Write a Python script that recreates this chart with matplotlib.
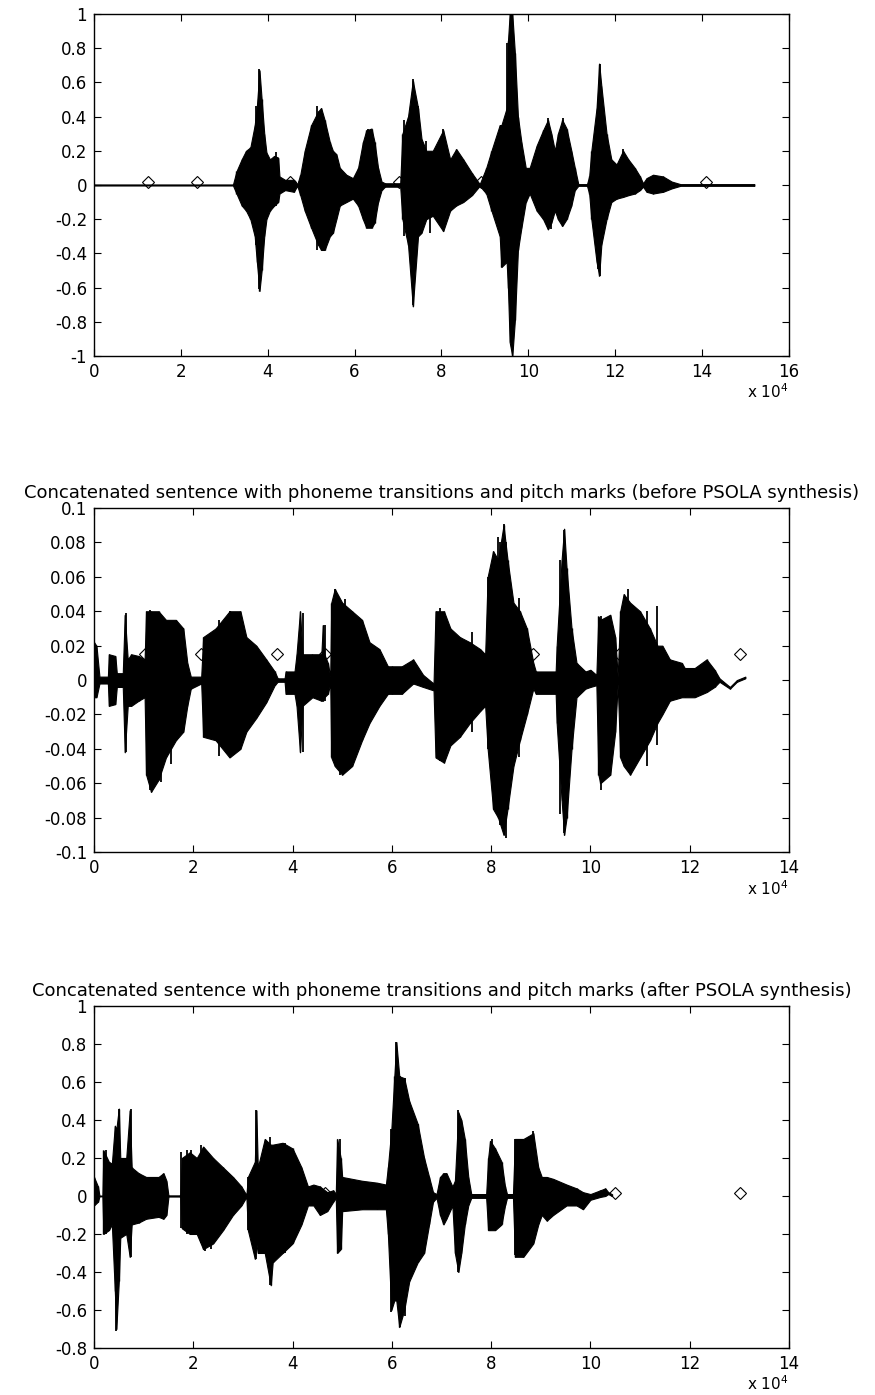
import matplotlib
matplotlib.use("Agg")
import matplotlib.pyplot as plt

# speech waveforms, envelope (upper / lower), x in units of 1e4 samples
# original sentence
p1_x = [0.0, 3.2, 3.28, 3.4, 3.5, 3.6, 3.7, 3.75, 3.81, 3.86, 3.92, 3.97, 4.05, 4.15, 4.24, 4.27,
        4.4, 4.6, 4.68, 4.75, 4.85, 5.0, 5.16, 5.23, 5.31, 5.43, 5.5, 5.58, 5.66, 5.81, 5.96, 6.08,
        6.19, 6.27, 6.39, 6.46, 6.54, 6.62, 6.7, 7.05, 7.1, 7.23, 7.34, 7.46, 7.54, 7.65, 7.8, 8.04,
        8.2, 8.34, 8.5, 8.7, 8.88, 9.03, 9.15, 9.34, 9.38, 9.5, 9.53, 9.57, 9.63, 9.69, 9.76, 9.84,
        9.94, 10.03, 10.19, 10.34, 10.45, 10.53, 10.61, 10.68, 10.78, 10.88, 10.99, 11.07, 11.15,
        11.35, 11.4, 11.45, 11.57, 11.63, 11.68, 11.8, 11.91, 12.03, 12.18, 12.3, 12.45, 12.57,
        12.64, 12.72, 12.87, 13.1, 13.3, 13.5, 15.2]
p1_hi = [0.003, 0.003, 0.08, 0.15, 0.2, 0.22, 0.35, 0.46, 0.67, 0.5, 0.3, 0.19, 0.15, 0.17, 0.16, 0.05,
         0.03, 0.03, 0.005, 0.06, 0.2, 0.35, 0.43, 0.45, 0.38, 0.25, 0.2, 0.18, 0.1, 0.06, 0.04, 0.1,
         0.25, 0.32, 0.33, 0.25, 0.1, 0.02, 0.01, 0.01, 0.3, 0.4, 0.61, 0.45, 0.27, 0.2, 0.2, 0.32,
         0.15, 0.21, 0.15, 0.07, 0.005, 0.1, 0.2, 0.35, 0.35, 0.45, 0.84, 1.0, 1.0, 0.77, 0.4, 0.25,
         0.1, 0.1, 0.23, 0.32, 0.38, 0.3, 0.2, 0.3, 0.38, 0.33, 0.2, 0.1, 0.005,
         0.005, 0.05, 0.2, 0.45, 0.71, 0.58, 0.3, 0.15, 0.12, 0.2, 0.15, 0.1, 0.05,
         0.01, 0.04, 0.06, 0.05, 0.02, 0.005, 0.005]
p1_lo = [-0.003, -0.003, -0.05, -0.12, -0.15, -0.2, -0.3, -0.45, -0.62, -0.5, -0.3, -0.2, -0.15, -0.12, -0.1, -0.05,
         -0.03, -0.04, -0.005, -0.06, -0.15, -0.25, -0.35, -0.38, -0.38, -0.3, -0.28, -0.2, -0.12, -0.1, -0.08, -0.12,
         -0.2, -0.25, -0.25, -0.22, -0.1, -0.03, -0.01, -0.01, -0.2, -0.35, -0.71, -0.3, -0.28, -0.2, -0.18, -0.27,
         -0.15, -0.12, -0.1, -0.06, -0.005, -0.05, -0.15, -0.3, -0.48, -0.45, -0.6, -0.92, -1.0, -0.79, -0.38, -0.25,
         -0.1, -0.05, -0.15, -0.2, -0.26, -0.22, -0.15, -0.2, -0.24, -0.2, -0.12, -0.03, -0.005,
         -0.005, -0.05, -0.2, -0.45, -0.53, -0.35, -0.2, -0.1, -0.08, -0.07, -0.06, -0.05, -0.03,
         -0.01, -0.04, -0.05, -0.04, -0.02, -0.005, -0.005]
# single sharp peaks standing out of the envelope
p1_spk_x = [3.74, 3.79, 4.18, 5.14, 6.31, 7.14, 7.34, 7.46, 7.65, 7.73, 8.04, 9.42, 9.51, 10.45, 10.53,
            10.8, 11.6, 11.66, 12.18]
p1_spk_hi = [0.46, 0.68, 0.19, 0.46, 0.33, 0.38, 0.62, 0.46, 0.26, 0.15, 0.33, 0.3, 0.83, 0.39, 0.25,
             0.39, 0.5, 0.71, 0.21]
p1_spk_lo = [-0.35, -0.61, -0.12, -0.38, -0.24, -0.3, -0.7, -0.3, -0.2, -0.28, -0.26, -0.47, -0.45, -0.25, -0.26,
             -0.24, -0.49, -0.53, -0.07]
p1_marks = [1.24, 2.38, 4.52, 7.03, 8.92, 14.08]
p1_mark_y = 0.02

# concatenated sentence before PSOLA
p2_x = [0.0, 0.05, 0.11, 0.28, 0.3, 0.43, 0.46, 0.58, 0.62, 0.68, 0.75, 0.9, 1.02, 1.05, 1.15, 1.3,
        1.45, 1.65, 1.8, 1.88, 1.95, 2.16, 2.2, 2.45, 2.73, 2.95, 3.07, 3.27, 3.47, 3.64, 3.7, 3.84,
        3.86, 4.04, 4.08, 4.15, 4.2, 4.4, 4.58, 4.61, 4.64, 4.71, 4.76, 4.78, 4.85, 5.0, 5.2, 5.4,
        5.55, 5.75, 5.92, 6.0, 6.2, 6.43, 6.63, 6.84, 6.88, 7.05, 7.18, 7.37, 7.57, 7.78, 7.88, 7.93,
        8.04, 8.14, 8.25, 8.33, 8.45, 8.58, 8.72, 8.85, 8.9, 9.3, 9.32, 9.42, 9.47, 9.52, 9.62, 9.72,
        9.9, 10.0, 10.12, 10.16, 10.2, 10.4, 10.5, 10.55, 10.6, 10.67, 10.8, 11.0, 11.2, 11.35, 11.45,
        11.6, 11.84, 11.9, 12.1, 12.34, 12.5, 12.6, 12.81, 12.95, 13.12]
p2_hi = [0.022, 0.02, 0.002, 0.002, 0.015, 0.014, 0.004, 0.004, 0.038, 0.012, 0.015, 0.014, 0.012, 0.04, 0.04, 0.04,
         0.035, 0.035, 0.03, 0.01, 0.002, 0.002, 0.025, 0.03, 0.04, 0.04, 0.025, 0.02, 0.012, 0.005, 0.001, 0.001,
         0.005, 0.005, 0.015, 0.04, 0.015, 0.015, 0.015, 0.032, 0.015, 0.01, 0.002, 0.045, 0.053, 0.045, 0.04, 0.035,
         0.022, 0.018, 0.008, 0.008, 0.008, 0.012, 0.003, -0.002, 0.04, 0.04, 0.03, 0.025, 0.022, 0.018, 0.015, 0.06,
         0.075, 0.07, 0.09, 0.07, 0.045, 0.04, 0.03, 0.01, 0.005, 0.005, 0.02, 0.07, 0.088, 0.065, 0.03, 0.01,
         0.005, 0.006, 0.003, 0.037, 0.035, 0.038, 0.025, 0.002, 0.04, 0.05, 0.045, 0.04, 0.03, 0.02, 0.02,
         0.012, 0.01, 0.007, 0.007, 0.012, 0.006, 0.001, -0.004, 0.0, 0.002]
p2_lo = [-0.01, -0.01, -0.002, -0.002, -0.015, -0.014, -0.004, -0.004, -0.042, -0.015, -0.015, -0.012, -0.01, -0.055, -0.065, -0.058,
         -0.045, -0.035, -0.03, -0.015, -0.005, -0.002, -0.033, -0.035, -0.045, -0.04, -0.03, -0.022, -0.013, -0.003, -0.001, -0.001,
         -0.008, -0.008, -0.015, -0.042, -0.015, -0.01, -0.012, -0.012, -0.01, -0.008, -0.002, -0.045, -0.05, -0.055, -0.05, -0.035,
         -0.025, -0.015, -0.008, -0.008, -0.008, -0.002, -0.004, -0.006, -0.045, -0.048, -0.038, -0.033, -0.025, -0.018, -0.015, -0.04,
         -0.075, -0.08, -0.09, -0.075, -0.05, -0.035, -0.02, -0.005, -0.008, -0.008, -0.025, -0.07, -0.09, -0.08, -0.04, -0.01,
         -0.005, -0.004, -0.003, -0.055, -0.06, -0.055, -0.03, -0.002, -0.045, -0.05, -0.055, -0.045, -0.035, -0.025, -0.02,
         -0.012, -0.01, -0.01, -0.01, -0.007, -0.004, -0.001, -0.005, -0.001, 0.001]
p2_spk_x = [0.64, 1.13, 1.26, 1.36, 1.56, 2.52, 2.73, 2.83, 4.22, 4.65, 4.85, 4.95, 5.06, 6.97, 7.61,
            7.94, 8.13, 8.18, 8.25, 8.3, 8.56, 9.39, 9.47, 10.21, 10.76, 11.13, 11.34]
p2_spk_hi = [0.039, 0.041, 0.038, 0.036, 0.034, 0.035, 0.04, 0.039, 0.039, 0.032, 0.053, 0.046, 0.047, 0.042, 0.028,
             0.06, 0.083, 0.08, 0.091, 0.08, 0.048, 0.07, 0.087, 0.037, 0.053, 0.04, 0.043]
p2_spk_lo = [-0.042, -0.064, -0.059, -0.059, -0.049, -0.044, -0.044, -0.039, -0.042, -0.012, -0.045, -0.055, -0.053, -0.047, -0.03,
             -0.04, -0.075, -0.084, -0.088, -0.092, -0.045, -0.078, -0.089, -0.064, -0.05, -0.05, -0.038]
p2_marks = [1.03, 2.16, 3.68, 4.66, 8.85, 10.57, 13.02]
p2_mark_y = 0.015

# concatenated sentence after PSOLA
p3_x = [0.0, 0.08, 0.11, 0.17, 0.19, 0.3, 0.36, 0.42, 0.45, 0.5, 0.53, 0.65, 0.72, 0.76, 0.9, 1.05,
        1.3, 1.4, 1.46, 1.5, 1.74, 1.77, 1.93, 2.07, 2.2, 2.4, 2.6, 2.8, 2.97, 3.07, 3.1, 3.24,
        3.27, 3.3, 3.44, 3.56, 3.6, 3.8, 4.0, 4.18, 4.31, 4.42, 4.55, 4.7, 4.82, 4.87, 4.9, 4.97,
        5.0, 5.4, 5.7, 5.88, 5.92, 5.99, 6.05, 6.09, 6.15, 6.25, 6.35, 6.52, 6.65, 6.75, 6.83, 6.9,
        6.97, 7.04, 7.1, 7.22, 7.27, 7.34, 7.4, 7.47, 7.54, 7.6, 7.9, 7.94, 7.98, 8.08, 8.21, 8.28,
        8.32, 8.44, 8.48, 8.65, 8.85, 8.95, 9.02, 9.12, 9.25, 9.52, 9.72, 9.85, 10.0, 10.2, 10.3,
        10.36, 10.43]
p3_hi = [0.1, 0.05, 0.002, 0.002, 0.24, 0.18, 0.17, 0.37, 0.35, 0.46, 0.2, 0.2, 0.45, 0.15, 0.12, 0.1,
         0.1, 0.12, 0.08, 0.003, 0.003, 0.2, 0.23, 0.2, 0.26, 0.2, 0.15, 0.1, 0.05, 0.005, 0.1, 0.18,
         0.45, 0.15, 0.3, 0.27, 0.27, 0.28, 0.25, 0.15, 0.05, 0.06, 0.05, 0.02, 0.03, 0.01, 0.3, 0.2,
         0.1, 0.08, 0.07, 0.06, 0.15, 0.35, 0.63, 0.81, 0.63, 0.62, 0.5, 0.38, 0.2, 0.1, 0.02, 0.01,
         0.1, 0.12, 0.12, 0.05, 0.08, 0.44, 0.4, 0.3, 0.1, 0.01, 0.01, 0.2, 0.29, 0.25, 0.18, 0.05,
         0.01, 0.01, 0.3, 0.3, 0.33, 0.15, 0.1, 0.1, 0.09, 0.06, 0.04, 0.02, 0.01, 0.03, 0.04,
         0.02, 0.01]
p3_lo = [-0.05, -0.03, -0.002, -0.002, -0.2, -0.18, -0.15, -0.5, -0.7, -0.45, -0.22, -0.2, -0.32, -0.15, -0.14, -0.12,
         -0.11, -0.12, -0.1, -0.003, -0.003, -0.17, -0.2, -0.2, -0.28, -0.25, -0.18, -0.1, -0.05, -0.005, -0.18, -0.33,
         -0.25, -0.3, -0.3, -0.47, -0.35, -0.3, -0.25, -0.15, -0.05, -0.05, -0.1, -0.08, -0.03, -0.01, -0.3, -0.28,
         -0.08, -0.07, -0.07, -0.07, -0.2, -0.6, -0.55, -0.55, -0.69, -0.6, -0.45, -0.35, -0.3, -0.15, -0.03, -0.01,
         -0.1, -0.15, -0.12, -0.05, -0.3, -0.4, -0.3, -0.15, -0.05, -0.01, -0.01, -0.18, -0.18, -0.18, -0.15, -0.05,
         -0.01, -0.01, -0.32, -0.32, -0.25, -0.15, -0.1, -0.13, -0.1, -0.05, -0.05, -0.07, -0.02, -0.005, 0.0,
         0.01, 0.0]
p3_spk_x = [0.25, 0.45, 0.5, 0.75, 1.76, 1.87, 1.96, 2.16, 2.23, 2.36, 3.1, 3.26, 3.54, 3.84, 4.95,
            5.99, 6.09, 6.16, 6.26, 6.53, 7.34, 8.01, 8.48, 8.58, 8.85]
p3_spk_hi = [0.24, 0.3, 0.46, 0.46, 0.23, 0.24, 0.24, 0.27, 0.22, 0.2, 0.1, 0.45, 0.31, 0.28, 0.3,
             0.35, 0.81, 0.63, 0.62, 0.38, 0.45, 0.3, 0.3, 0.3, 0.34]
p3_spk_lo = [-0.2, -0.71, -0.45, -0.32, -0.17, -0.2, -0.2, -0.25, -0.29, -0.28, -0.18, -0.33, -0.47, -0.3, -0.29,
             -0.61, -0.55, -0.69, -0.63, -0.35, -0.4, -0.18, -0.31, -0.32, -0.25]
p3_marks = [4.65, 10.5, 13.02]
p3_mark_y = 0.015

title_before = "Concatenated sentence with phoneme transitions and pitch marks (before PSOLA synthesis)"
title_after = "Concatenated sentence with phoneme transitions and pitch marks (after PSOLA synthesis)"

plt.rcParams['font.family'] = ['DejaVu Sans']

fig = plt.figure(figsize=(8.75, 13.95), dpi=100)
fig.patch.set_facecolor('white')

panels = [
    ([0.1074, 0.7448, 0.7943, 0.2452], p1_x, p1_hi, p1_lo, p1_spk_x, p1_spk_hi, p1_spk_lo,
     p1_marks, p1_mark_y, 16, [0, 2, 4, 6, 8, 10, 12, 14, 16], (-1, 1),
     [-1, -0.8, -0.6, -0.4, -0.2, 0, 0.2, 0.4, 0.6, 0.8, 1],
     ['-1', '-0.8', '-0.6', '-0.4', '-0.2', '0', '0.2', '0.4', '0.6', '0.8', '1'], None),
    ([0.1074, 0.3892, 0.7943, 0.2466], p2_x, p2_hi, p2_lo, p2_spk_x, p2_spk_hi, p2_spk_lo,
     p2_marks, p2_mark_y, 14, [0, 2, 4, 6, 8, 10, 12, 14], (-0.1, 0.1),
     [-0.1, -0.08, -0.06, -0.04, -0.02, 0, 0.02, 0.04, 0.06, 0.08, 0.1],
     ['-0.1', '-0.08', '-0.06', '-0.04', '-0.02', '0', '0.02', '0.04', '0.06', '0.08', '0.1'], title_before),
    ([0.1074, 0.0337, 0.7943, 0.2452], p3_x, p3_hi, p3_lo, p3_spk_x, p3_spk_hi, p3_spk_lo,
     p3_marks, p3_mark_y, 14, [0, 2, 4, 6, 8, 10, 12, 14], (-0.8, 1),
     [-0.8, -0.6, -0.4, -0.2, 0, 0.2, 0.4, 0.6, 0.8, 1],
     ['-0.8', '-0.6', '-0.4', '-0.2', '0', '0.2', '0.4', '0.6', '0.8', '1'], title_after),
]

for (rect, x, hi, lo, sx, shi, slo, marks, mark_y, xmax, xt, ylim, yt, ytl, title) in panels:
    ax = fig.add_axes(rect)
    ax.fill_between(x, lo, hi, color='black', linewidth=0.8, edgecolor='black')
    ax.vlines(x, lo, hi, color='black', linewidth=1.0)
    ax.vlines(sx, slo, shi, color='black', linewidth=1.3)
    ax.plot(marks, [mark_y] * len(marks), linestyle='none', marker='D', markersize=6.5,
            markerfacecolor='none', markeredgecolor='black', markeredgewidth=0.8, zorder=5)
    ax.set_xlim(0, xmax)
    ax.set_ylim(*ylim)
    ax.set_xticks(xt)
    ax.set_xticklabels([str(v) for v in xt])
    ax.set_yticks(yt)
    ax.set_yticklabels(ytl)
    ax.tick_params(direction='in', length=5, width=0.8, top=True, right=True,
                   labelsize=12, pad=5)
    for s in ax.spines.values():
        s.set_linewidth(1.0)
    ax.text(1.0, -0.105, r'x 10$^4$', transform=ax.transAxes, ha='right', va='center',
            fontsize=11)
    if title:
        ax.set_title(title, fontsize=13, pad=7)

fig.savefig('out.png', dpi=100, facecolor='white')
